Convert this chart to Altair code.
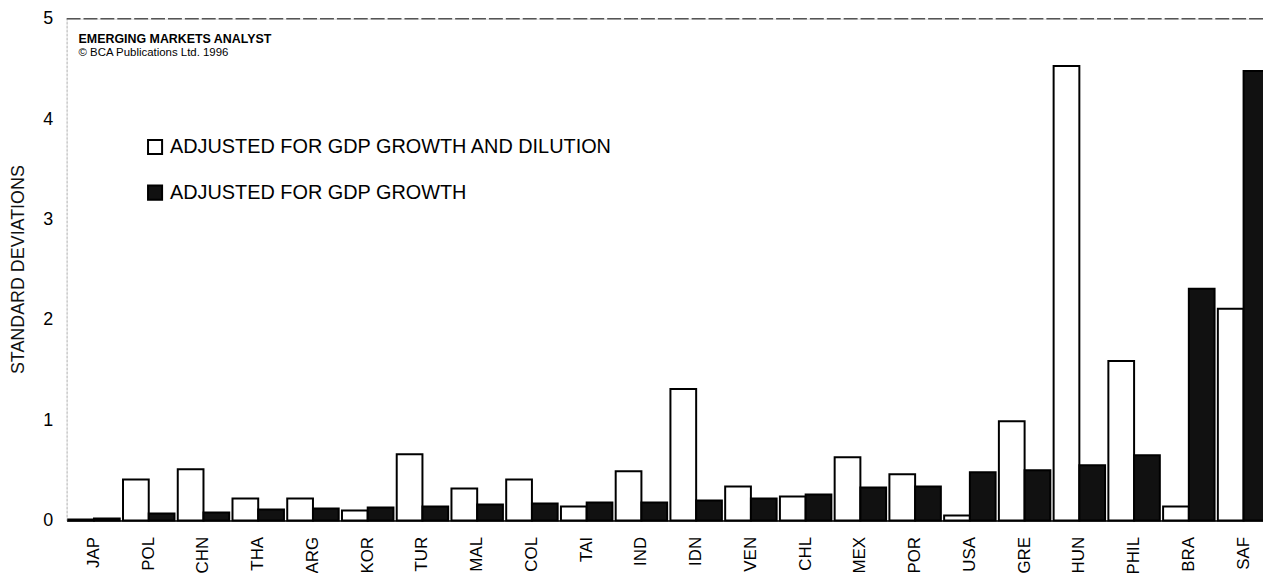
import altair as alt
import pandas as pd

countries = ["JAP", "POL", "CHN", "THA", "ARG", "KOR", "TUR", "MAL", "COL", "TAI", "IND",
             "IDN", "VEN", "CHL", "MEX", "POR", "USA", "GRE", "HUN", "PHIL", "BRA", "SAF"]
dilution = [0.01, 0.41, 0.51, 0.22, 0.22, 0.10, 0.66, 0.32, 0.41, 0.14, 0.49,
            1.31, 0.34, 0.24, 0.63, 0.46, 0.05, 0.99, 4.53, 1.59, 0.14, 2.11]
growth = [0.02, 0.07, 0.08, 0.11, 0.12, 0.13, 0.14, 0.16, 0.17, 0.18, 0.18,
          0.20, 0.22, 0.26, 0.33, 0.34, 0.48, 0.50, 0.55, 0.65, 2.31, 4.48]
series_names = ["ADJUSTED FOR GDP GROWTH AND DILUTION", "ADJUSTED FOR GDP GROWTH"]
y_ticks = [0, 1, 2, 3, 4, 5]
y_title = "STANDARD DEVIATIONS"
header_title = ["EMERGING MARKETS ANALYST"]
header_sub = ["© BCA Publications Ltd. 1996"]
top_line = [5]

rows = []
for c, d, g in zip(countries, dilution, growth):
    rows.append({"country": c, "series": series_names[0], "value": d})
    rows.append({"country": c, "series": series_names[1], "value": g})
df = pd.DataFrame(rows)

FONT = "Liberation Sans"
W, H = 1204, 505

y_axis = alt.Axis(values=y_ticks, title=y_title, grid=False, ticks=False, labelPadding=14,
                  labelFontSize=18, labelColor="black", labelFont=FONT,
                  domainColor="#bbbbbb", domainDash=[2, 2], domainWidth=1,
                  titleFontSize=18, titleFontWeight="normal", titleFont=FONT,
                  titleColor="#111", titleX=-48, titleY=252, titleAngle=-90,
                  titleAlign="center", titleBaseline="middle")
y_scale = alt.Scale(domain=[0, 5], nice=False)

rule = alt.Chart(pd.DataFrame({"value": top_line})).mark_rule(
    color="#555", strokeDash=[14, 3], strokeWidth=1.5
).encode(y=alt.Y("value:Q", scale=y_scale, axis=y_axis, title=y_title))

bars = alt.Chart(df).mark_bar(stroke="black", strokeWidth=2, strokeJoin="miter").encode(
    x=alt.X("country:N", sort=countries,
            scale=alt.Scale(paddingInner=0.06, paddingOuter=0.03, range=[0, 1212]),
            axis=alt.Axis(title=None, labelAngle=-90, labelAlign="right", labelBaseline="middle",
                          labelFontSize=17, labelPadding=16, ticks=False, domainColor="black",
                          domainWidth=1.5, labelColor="black", labelFont=FONT)),
    xOffset=alt.XOffset("series:N", sort=series_names),
    y=alt.Y("value:Q", scale=y_scale, axis=y_axis, title=y_title),
    fill=alt.Fill("series:N", sort=series_names,
                  scale=alt.Scale(domain=series_names, range=["white", "#111111"]),
                  legend=alt.Legend(title=None, orient="none", legendX=79, legendY=119,
                                    symbolType="square", symbolSize=200,
                                    symbolStrokeColor="black", symbolStrokeWidth=2,
                                    labelFontSize=20, labelFont=FONT, labelColor="black",
                                    labelLimit=0, rowPadding=22, labelOffset=5, padding=0,
                                    direction="vertical")),
)

t1 = alt.Chart(pd.DataFrame({"t": header_title})).mark_text(
    align="left", baseline="middle", fontSize=12.5, fontWeight="bold", font=FONT, color="black"
).encode(x=alt.value(12), y=alt.value(20), text="t:N")

t2 = alt.Chart(pd.DataFrame({"t": header_sub})).mark_text(
    align="left", baseline="middle", fontSize=11.5, font=FONT, color="black"
).encode(x=alt.value(12), y=alt.value(35), text="t:N")

chart = alt.layer(rule, bars, t1, t2).properties(
    width=W, height=H,
    padding={"left": 59, "top": 9, "right": 0, "bottom": 51},
    autosize=alt.AutoSizeParams(type="none"),
).configure_view(stroke=None).configure(font=FONT, background="white")

chart.save("out.html", embed_options={"renderer": "svg", "actions": False})
